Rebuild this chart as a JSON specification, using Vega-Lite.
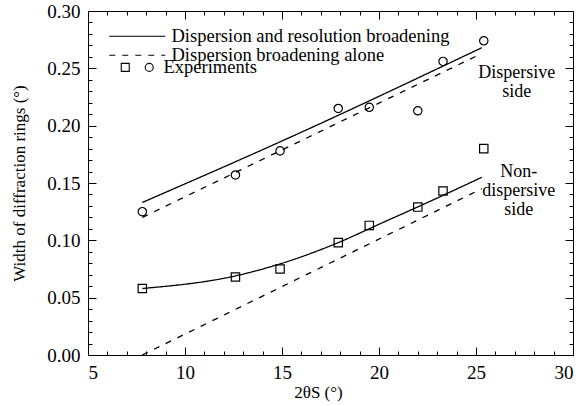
{
  "$schema": "https://vega.github.io/schema/vega-lite/v6.json",
  "width": 485,
  "height": 344,
  "autosize": "none",
  "padding": {"left": 88, "top": 11, "right": 8, "bottom": 51},
  "background": "white",
  "config": {
    "font": "Liberation Serif",
    "legend": {
      "labelFont": "Liberation Serif",
      "labelFontSize": 18.5,
      "labelColor": "black",
      "labelLimit": 400,
      "padding": 0
    }
  },
  "data": {
    "values": [
      {"kind": "line", "x": 7.8, "y": 0.133, "side": "Dispersive", "type": "Dispersion and resolution broadening"},
      {"kind": "line", "x": 15.7, "y": 0.192, "side": "Dispersive", "type": "Dispersion and resolution broadening"},
      {"kind": "line", "x": 25.3, "y": 0.268, "side": "Dispersive", "type": "Dispersion and resolution broadening"},
      {"kind": "line", "x": 7.8, "y": 0.120, "side": "Dispersive", "type": "Dispersion broadening alone"},
      {"kind": "line", "x": 25.3, "y": 0.263, "side": "Dispersive", "type": "Dispersion broadening alone"},
      {"kind": "line", "x": 7.8, "y": 0.058, "side": "Non-dispersive", "type": "Dispersion and resolution broadening"},
      {"kind": "line", "x": 12.6, "y": 0.069, "side": "Non-dispersive", "type": "Dispersion and resolution broadening"},
      {"kind": "line", "x": 15.0, "y": 0.080, "side": "Non-dispersive", "type": "Dispersion and resolution broadening"},
      {"kind": "line", "x": 17.9, "y": 0.098, "side": "Non-dispersive", "type": "Dispersion and resolution broadening"},
      {"kind": "line", "x": 20.0, "y": 0.114, "side": "Non-dispersive", "type": "Dispersion and resolution broadening"},
      {"kind": "line", "x": 22.5, "y": 0.133, "side": "Non-dispersive", "type": "Dispersion and resolution broadening"},
      {"kind": "line", "x": 25.3, "y": 0.155, "side": "Non-dispersive", "type": "Dispersion and resolution broadening"},
      {"kind": "line", "x": 7.8, "y": 0.0, "side": "Non-dispersive", "type": "Dispersion broadening alone"},
      {"kind": "line", "x": 25.3, "y": 0.145, "side": "Non-dispersive", "type": "Dispersion broadening alone"},
      {"kind": "point", "x": 7.8, "y": 0.125, "side": "Dispersive"},
      {"kind": "point", "x": 12.6, "y": 0.157, "side": "Dispersive"},
      {"kind": "point", "x": 14.9, "y": 0.178, "side": "Dispersive"},
      {"kind": "point", "x": 17.9, "y": 0.215, "side": "Dispersive"},
      {"kind": "point", "x": 19.5, "y": 0.216, "side": "Dispersive"},
      {"kind": "point", "x": 22.0, "y": 0.213, "side": "Dispersive"},
      {"kind": "point", "x": 23.3, "y": 0.256, "side": "Dispersive"},
      {"kind": "point", "x": 25.4, "y": 0.274, "side": "Dispersive"},
      {"kind": "point", "x": 7.8, "y": 0.058, "side": "Non-dispersive"},
      {"kind": "point", "x": 12.6, "y": 0.068, "side": "Non-dispersive"},
      {"kind": "point", "x": 14.9, "y": 0.075, "side": "Non-dispersive"},
      {"kind": "point", "x": 17.9, "y": 0.098, "side": "Non-dispersive"},
      {"kind": "point", "x": 19.5, "y": 0.113, "side": "Non-dispersive"},
      {"kind": "point", "x": 22.0, "y": 0.129, "side": "Non-dispersive"},
      {"kind": "point", "x": 23.3, "y": 0.143, "side": "Non-dispersive"},
      {"kind": "point", "x": 25.4, "y": 0.180, "side": "Non-dispersive"},
      {"kind": "note", "x": 27.1, "y": 0.242, "label": "Dispersive\nside"},
      {"kind": "note", "x": 27.2, "y": 0.155, "label": "Non-\ndispersive\nside"}
    ]
  },
  "layer": [
    {
      "transform": [{"filter": "datum.kind === 'line'"}],
      "mark": {"type": "line", "color": "black", "strokeWidth": 1.3, "interpolate": "monotone"},
      "encoding": {
        "x": {
          "field": "x", "type": "quantitative",
          "scale": {"domain": [5, 30], "nice": false, "zero": false},
          "axis": {
            "orient": "bottom",
            "domainColor": "black", "gridOpacity": 0,
            "values": [5,6,7,8,9,10,11,12,13,14,15,16,17,18,19,20,21,22,23,24,25,26,27,28,29,30],
            "labelExpr": "datum.value % 5 == 0 ? datum.label : ''",
            "tickColor": "black", "tickWidth": 1,
            "tickSize": {"condition": {"test": "datum.value % 5 == 0", "value": -8}, "value": -4},
            "labelPadding": 16,
            "labelFont": "Liberation Serif", "labelFontSize": 19, "labelColor": "black",
            "title": "2θS (°)",
            "titleFont": "Liberation Serif", "titleFontSize": 17, "titleFontWeight": "normal", "titleColor": "black",
            "titleX": 230,
            "titlePadding": 2
          }
        },
        "y": {
          "field": "y", "type": "quantitative",
          "scale": {"domain": [0, 0.3], "nice": false, "zero": false},
          "axis": {
            "orient": "left",
            "domainColor": "black", "gridOpacity": 0,
            "values": [0,0.01,0.02,0.03,0.04,0.05,0.06,0.07,0.08,0.09,0.1,0.11,0.12,0.13,0.14,0.15,0.16,0.17,0.18,0.19,0.2,0.21,0.22,0.23,0.24,0.25,0.26,0.27,0.28,0.29,0.3],
            "labelExpr": "round(datum.value * 100) % 5 == 0 ? format(datum.value, '.2f') : ''",
            "tickColor": "black", "tickWidth": 1,
            "tickSize": {"condition": {"test": "round(datum.value * 100) % 5 == 0", "value": -8}, "value": -4},
            "labelPadding": 16,
            "labelFont": "Liberation Serif", "labelFontSize": 19, "labelColor": "black",
            "title": "Width of diffraction rings (°)",
            "titleFont": "Liberation Serif", "titleFontSize": 17, "titleFontWeight": "normal", "titleColor": "black",
            "titlePadding": 18
          }
        },
        "strokeDash": {
          "field": "type", "type": "nominal",
          "scale": {"domain": ["Dispersion and resolution broadening", "Dispersion broadening alone"], "range": [[1, 0], [6, 7]]},
          "legend": {
            "orient": "none", "legendX": 40, "legendY": 16, "title": null,
            "symbolType": "M-4,0H4", "symbolSize": 196, "labelOffset": 25,
            "symbolStrokeColor": "black", "symbolStrokeWidth": 1.2,
            "rowPadding": 0
          }
        },
        "detail": {"field": "side", "type": "nominal"}
      }
    },
    {
      "encoding": {
        "x": {
          "field": "x", "type": "quantitative",
          "axis": {
            "orient": "top",
            "domainColor": "black", "gridOpacity": 0,
            "values": [5,6,7,8,9,10,11,12,13,14,15,16,17,18,19,20,21,22,23,24,25,26,27,28,29,30],
            "labels": false,
            "tickColor": "black", "tickWidth": 1,
            "tickSize": {"condition": {"test": "datum.value % 5 == 0", "value": -8}, "value": -4},
            "title": null
          }
        },
        "y": {
          "field": "y", "type": "quantitative",
          "axis": {
            "orient": "right",
            "domainColor": "black", "gridOpacity": 0,
            "values": [0,0.01,0.02,0.03,0.04,0.05,0.06,0.07,0.08,0.09,0.1,0.11,0.12,0.13,0.14,0.15,0.16,0.17,0.18,0.19,0.2,0.21,0.22,0.23,0.24,0.25,0.26,0.27,0.28,0.29,0.3],
            "labels": false,
            "tickColor": "black", "tickWidth": 1,
            "tickSize": {"condition": {"test": "round(datum.value * 100) % 5 == 0", "value": -8}, "value": -4},
            "title": null
          }
        }
      },
      "layer": [
        {
          "transform": [{"filter": "datum.kind === 'point'"}],
          "mark": {"type": "point", "filled": false, "stroke": "black", "strokeWidth": 1.2, "size": 70, "opacity": 1},
          "encoding": {
            "shape": {
              "field": "side", "type": "nominal",
              "scale": {"domain": ["Non-dispersive", "Dispersive"], "range": ["square", "circle"]},
              "legend": {
                "orient": "none", "legendX": 28, "legendY": 47, "title": null,
                "direction": "horizontal", "columns": 2, "columnPadding": 0,
                "labelExpr": "datum.label == 'Dispersive' ? '\u00a0Experiments' : ''",
                "symbolSize": 64, "labelOffset": 5,
                "symbolStrokeColor": "black", "symbolStrokeWidth": 1.1, "symbolFillColor": "transparent"
              }
            }
          }
        },
        {
          "transform": [{"filter": "datum.kind === 'note'"}],
          "mark": {"type": "text", "align": "center", "baseline": "alphabetic", "lineBreak": "\n", "fontSize": 18, "lineHeight": 19, "font": "Liberation Serif", "color": "black"},
          "encoding": {
            "text": {"field": "label", "type": "nominal"}
          }
        }
      ]
    }
  ],
  "resolve": {"axis": {"x": "independent", "y": "independent"}}
}
